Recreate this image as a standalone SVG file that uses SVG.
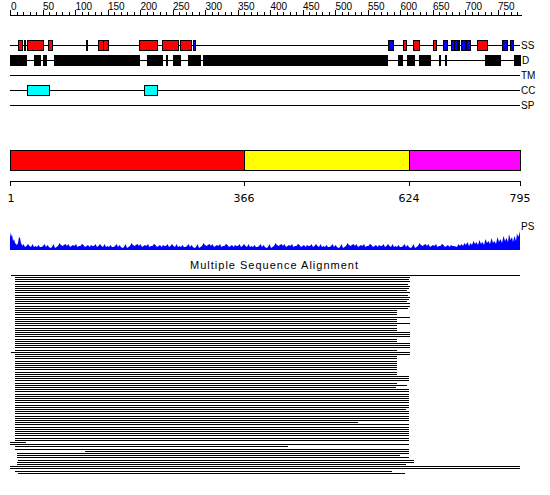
<svg xmlns="http://www.w3.org/2000/svg" width="550" height="495" viewBox="0 0 550 495">
<style>
text{font-family:"Liberation Sans",Arial,sans-serif;fill:#000}
.rl{font-size:10px}
.tl{font-size:10px}
.ax{font-family:"DejaVu Sans",sans-serif;font-size:11px;text-anchor:middle}
.ln{stroke:#000;stroke-width:1;fill:none}
.bx{stroke:#000;stroke-width:1}
.r{fill:#f00}.b{fill:#00f}.c{fill:#0ff}
</style>
<rect width="550" height="495" fill="#fff"/>
<g id="ruler" shape-rendering="crispEdges">
<path class="ln" d="M10 15.5H522M10.5 10V15m6.5-3v3m6.5-3v3m6.5-3v3m6.5-3v3m6.5-5v5m6.5-3v3m6.5-3v3m6.5-3v3m6.5-3v3m6.5-5v5m6.5-3v3m6.5-3v3m6.5-3v3m6.5-3v3m6.5-5v5m6.5-3v3m6.5-3v3m6.5-3v3m6.5-3v3m6.5-5v5m6.5-3v3m6.5-3v3m6.5-3v3m6.5-3v3m6.5-5v5m6.5-3v3m6.5-3v3m6.5-3v3m6.5-3v3m6.5-5v5m6.5-3v3m6.5-3v3m6.5-3v3m6.5-3v3m6.5-5v5m6.5-3v3m6.5-3v3m6.5-3v3m6.5-3v3m6.5-5v5m6.5-3v3m6.5-3v3m6.5-3v3m6.5-3v3m6.5-5v5m6.5-3v3m6.5-3v3m6.5-3v3m6.5-3v3m6.5-5v5m6.5-3v3m6.5-3v3m6.5-3v3m6.5-3v3m6.5-5v5m6.5-3v3m6.5-3v3m6.5-3v3m6.5-3v3m6.5-5v5m6.5-3v3m6.5-3v3m6.5-3v3m6.5-3v3m6.5-5v5m6.5-3v3m6.5-3v3m6.5-3v3m6.5-3v3m6.5-5v5m6.5-3v3m6.5-3v3m6.5-3v3m6.5-3v3m6.5-5v5m6.5-3v3m6.5-3v3m6.5-3v3"/>
<g class="rl">
<text x="11" y="10">0</text><text x="43" y="10">50</text><text x="75.5" y="10">100</text><text x="108" y="10">150</text><text x="140.5" y="10">200</text><text x="173" y="10">250</text><text x="205.5" y="10">300</text><text x="238" y="10">350</text><text x="270.5" y="10">400</text><text x="303" y="10">450</text><text x="335.5" y="10">500</text><text x="368" y="10">550</text><text x="400.5" y="10">600</text><text x="433" y="10">650</text><text x="465.5" y="10">700</text><text x="498" y="10">750</text>
</g>
</g>
<g id="track-SS">
<path class="ln" d="M10 45.5H520"/>
<g class="bx">
<rect class="r" x="18.5" y="40.5" width="4" height="10"/>
<rect class="r" x="24.5" y="40.5" width="1" height="10"/>
<rect class="r" x="27.5" y="40.5" width="16" height="10"/>
<rect class="r" x="48.5" y="40.5" width="4" height="10"/>
<rect class="r" x="86.5" y="40.5" width="1" height="10"/>
<rect class="r" x="98.5" y="40.5" width="5" height="10"/>
<rect class="r" x="103.5" y="40.5" width="5" height="10"/>
<rect class="r" x="139.5" y="40.5" width="18" height="10"/>
<rect class="r" x="162.5" y="40.5" width="16" height="10"/>
<rect class="r" x="180.5" y="40.5" width="11" height="10"/>
<rect class="b" x="193.5" y="40.5" width="2" height="10"/>
<rect class="b" x="388.5" y="40.5" width="5" height="10"/>
<rect class="r" x="403.5" y="40.5" width="3" height="10"/>
<rect class="r" x="413.5" y="40.5" width="6" height="10"/>
<rect class="r" x="433.5" y="40.5" width="3" height="10"/>
<rect class="b" x="443.5" y="40.5" width="4" height="10"/>
<rect class="b" x="451.5" y="40.5" width="3" height="10"/>
<rect class="b" x="454.5" y="40.5" width="3" height="10"/>
<rect class="b" x="458.5" y="40.5" width="1" height="10"/>
<rect class="b" x="461.5" y="40.5" width="4" height="10"/>
<rect class="b" x="466.5" y="40.5" width="4" height="10"/>
<rect class="r" x="477.5" y="40.5" width="10" height="10"/>
<rect class="b" x="502.5" y="40.5" width="5" height="10"/>
<rect class="b" x="510.5" y="40.5" width="3" height="10"/>
</g>
<text class="tl" x="521" y="49">SS</text>
</g>
<g id="track-D">
<path class="ln" d="M10 60.5H520"/>
<g fill="#000">
<rect x="10" y="55" width="17" height="11"/>
<rect x="34" y="55" width="7" height="11"/>
<rect x="43" y="55" width="4" height="11"/>
<rect x="54" y="55" width="86" height="11"/>
<rect x="147" y="55" width="16" height="11"/>
<rect x="166" y="55" width="2" height="11"/>
<rect x="173" y="55" width="8" height="11"/>
<rect x="188" y="55" width="13" height="11"/>
<rect x="203" y="55" width="185" height="11"/>
<rect x="398" y="55" width="5" height="11"/>
<rect x="407" y="55" width="8" height="11"/>
<rect x="419" y="55" width="12" height="11"/>
<rect x="439" y="55" width="2" height="11"/>
<rect x="445" y="55" width="2" height="11"/>
<rect x="485" y="55" width="16" height="11"/>
<rect x="514" y="55" width="7" height="11"/>
</g>
<text class="tl" x="522" y="64">D</text>
</g>
<g id="track-TM">
<path class="ln" d="M10 75.5H520"/>
<text class="tl" x="521" y="79">TM</text>
</g>
<g id="track-CC">
<path class="ln" d="M10 90.5H520"/>
<rect class="c bx" x="27.5" y="85.5" width="22" height="10"/>
<rect class="c bx" x="144.5" y="85.5" width="13" height="10"/>
<text class="tl" x="521" y="94">CC</text>
</g>
<g id="track-SP">
<path class="ln" d="M10 105.5H520"/>
<text class="tl" x="521" y="109">SP</text>
</g>
<g id="domains">
<rect class="bx" x="10.5" y="150.5" width="234" height="20" fill="#f00"/>
<rect class="bx" x="244.5" y="150.5" width="165" height="20" fill="#ff0"/>
<rect class="bx" x="409.5" y="150.5" width="111" height="20" fill="#f0f"/>
<path class="ln" d="M10 181.5H521M10.5 181V186M244.5 181V186M409.5 181V186M520.5 181V186"/>
<text class="ax" x="11" y="202">1</text>
<text class="ax" x="244" y="202">366</text>
<text class="ax" x="409" y="202">624</text>
<text class="ax" x="520" y="202">795</text>
</g>
<g id="ps-plot">
<path fill="#00f" d="M10 250L10 232L11 237L12 234L13 241L14 239L15 243L16 244L17 245L18 243L19 237L20 238L21 243L22 245L22 246
l1.5-2l1.5 3l1.5-1l1.5-2l1.5 2l1.5 1l1.5-3l1.5 3l1.5-1l1.5 1l1.5-2l1.5 2l1.5 0l1.5-1l1.5-2l1.5 3l1.5-2l1.5 2l1.5 1l1.5-1l1.5-3l1.5 4l1.5-1l1.5-1
l1.5-3l1.5 2l1.5 1l1.5-1l1.5-1l1.5 2l1.5-2l1.5 3l1.5-1l1.5-1l1.5 1l1.5-2l1.5 3l1.5-1l1.5 0l1.5-2l1.5 1l1.5 2l1.5-1l1.5-1l1.5 2l1.5-2l1.5 1l1.5 0
l1.5-2l1.5 3l1.5-1l1.5-2l1.5 2l1.5 1l1.5-3l1.5 3l1.5-1l1.5 1l1.5-2l1.5 2l1.5 0l1.5-1l1.5-2l1.5 3l1.5-2l1.5 2l1.5 1l1.5-1l1.5-3l1.5 4l1.5-1l1.5-1
l1.5-3l1.5 2l1.5 1l1.5-1l1.5-1l1.5 2l1.5-2l1.5 3l1.5-1l1.5-1l1.5 1l1.5-2l1.5 3l1.5-1l1.5 0l1.5-2l1.5 1l1.5 2l1.5-1l1.5-1l1.5 2l1.5-2l1.5 1l1.5 0
l1.5-2l1.5 3l1.5-1l1.5-2l1.5 2l1.5 1l1.5-3l1.5 3l1.5-1l1.5 1l1.5-2l1.5 2l1.5 0l1.5-1l1.5-2l1.5 3l1.5-2l1.5 2l1.5 1l1.5-1l1.5-3l1.5 4l1.5-1l1.5-1
l1.5-3l1.5 2l1.5 1l1.5-1l1.5-1l1.5 2l1.5-2l1.5 3l1.5-1l1.5-1l1.5 1l1.5-2l1.5 3l1.5-1l1.5 0l1.5-2l1.5 1l1.5 2l1.5-1l1.5-1l1.5 2l1.5-2l1.5 1l1.5 0
l1.5-2l1.5 3l1.5-1l1.5-2l1.5 2l1.5 1l1.5-3l1.5 3l1.5-1l1.5 1l1.5-2l1.5 2l1.5 0l1.5-1l1.5-2l1.5 3l1.5-2l1.5 2l1.5 1l1.5-1l1.5-3l1.5 4l1.5-1l1.5-1
l1.5-3l1.5 2l1.5 1l1.5-1l1.5-1l1.5 2l1.5-2l1.5 3l1.5-1l1.5-1l1.5 1l1.5-2l1.5 3l1.5-1l1.5 0l1.5-2l1.5 1l1.5 2l1.5-1l1.5-1l1.5 2l1.5-2l1.5 1l1.5 0
l1.5-2l1.5 3l1.5-1l1.5-2l1.5 2l1.5 1l1.5-3l1.5 3l1.5-1l1.5 1l1.5-2l1.5 2l1.5 0l1.5-1l1.5-2l1.5 3l1.5-2l1.5 2l1.5 1l1.5-1l1.5-3l1.5 4l1.5-1l1.5-1
l1.5-3l1.5 2l1.5 1l1.5-1l1.5-1l1.5 2l1.5-2l1.5 3l1.5-1l1.5-1l1.5 1l1.5-2l1.5 3l1.5-1l1.5 0l1.5-2l1.5 1l1.5 2l1.5-1l1.5-1l1.5 2l1.5-2l1.5 1l1.5 0
l1.5-2l1.5 3l1.5-1l1.5-2l1.5 2l1.5 1l1.5-3l1.5 3l1.5-1l1.5 1l1.5-2l1.5 2l1.5 0l1.5-1l1.5-2l1.5 3l1.5-2l1.5 2l1.5 1l1.5-1l1.5-3l1.5 4l1.5-1l1.5-1
l1.5-3l1.5 2l1.5 1l1.5-1l1.5-1l1.5 2l1.5-2l1.5 3l1.5-1l1.5-1l1.5 1l1.5-2l1.5 3l1.5-1l1.5 0l1.5-2l1.5 1l1.5 2l1.5-1l1.5-1l1.5 2l1.5-2l1.5 1l1.5 0
L457 247L458.5 244L460 246L461.5 244L463 246L464.5 243L466 245L467.5 242L469 246L470.5 243L472 245L473.5 241L475 244L476.5 242L478 245L479.5 240L481 244L482.5 242L484 245L485.5 239L487 243L488.5 241L490 244L491.5 238L493 243L494.5 241L496 244L497.5 237L499 242L500.5 239L502 243L503.5 236L505 241L506.5 238L508 242L509 234L510.5 240L512 237L513 242L514.5 236L516 241L517 233L518 237L519 235L520 231L520 250Z"/>
<text class="tl" x="521" y="230">PS</text>
</g>
<g id="msa">
<text x="274" y="269" font-family="'DejaVu Sans',sans-serif" font-size="11" text-anchor="middle" textLength="168">Multiple Sequence Alignment</text>
<path class="ln" shape-rendering="crispEdges" d="M11 275.5H520
M15 277.5H410M15 279.5H409M15 281.5H410M15 284.5H408M15 286.5H410
M15 288.5H409M15 290.5H407M15 292.5H410M15 295.5H408M15 297.5H410
M15 299.5H409M15 301.5H407M15 303.5H410M15 306.5H410M15 308.5H408
M15 310.5H397M15 312.5H397M15 314.5H397M15 317.5H410M15 319.5H397
M15 321.5H397M15 323.5H410M15 325.5H397M15 328.5H397M15 330.5H397
M15 332.5H410M15 334.5H410M15 336.5H410M15 339.5H397M15 341.5H397
M15 343.5H410M15 345.5H410M15 347.5H410M15 350.5H397M11 352.5H410
M15 354.5H410M15 356.5H397M15 358.5H397M15 361.5H397M15 363.5H397
M15 365.5H397M15 367.5H397M15 369.5H397M15 372.5H397M15 374.5H397
M15 376.5H409M15 378.5H409M15 380.5H409M15 383.5H397M15 385.5H407
M15 387.5H396M15 389.5H409M15 391.5H409M15 394.5H409M15 396.5H409
M15 398.5H409M15 400.5H409M15 402.5H409M15 405.5H409M15 407.5H409
M15 409.5H406M15 411.5H409M15 413.5H409M15 416.5H409M15 418.5H409
M15 420.5H409M15 422.5H358M15 424.5H409M15 427.5H409M15 429.5H409
M15 431.5H409M15 433.5H409M15 435.5H409M15 438.5H409M15 440.5H409
M10 442.5H26M10 444.5H409M15 446.5H288M15 449.5H409M85 451.5H409
M17 453.5H409M17 455.5H400M17 457.5H409M18 460.5H414M17 462.5H414
M17 464.5H406M10 466.5H520M10 468.5H520M15 471.5H392M18 473.5H405"/>
</g>
</svg>
